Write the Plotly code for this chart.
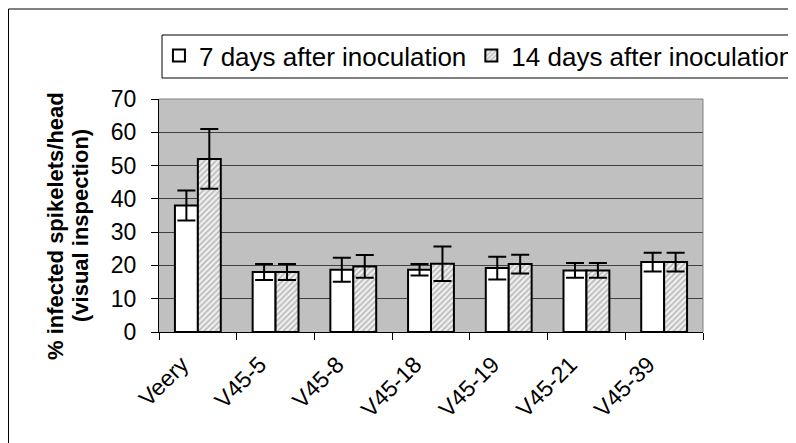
import plotly.graph_objects as go

categories = ["Veery", "V45-5", "V45-8", "V45-18", "V45-19", "V45-21", "V45-39"]
day7 = [38.0, 18.0, 18.7, 18.7, 19.2, 18.5, 21.0]
day7_err = [4.5, 2.4, 3.6, 1.7, 3.4, 2.2, 2.8]
day14 = [52.0, 18.0, 19.7, 20.5, 20.4, 18.5, 21.0]
day14_err = [9.0, 2.4, 3.4, 5.2, 2.8, 2.2, 2.8]
series_names = ["7 days after inoculation", "14 days after inoculation"]
y_title_lines = ["% infected spikelets/head", "(visual inspection)"]

# The page body has an 8px margin, so the figure is drawn 8px in from the corner.
OFF = 8
W, H = 796 - OFF, 443 - OFF
L, R, T, B = 159 - OFF, 703 - OFF, 99 - OFF, 332 - OFF


def px_x(p):
    """page pixel -> paper x"""
    return (p - OFF - L) / (R - L)


def px_y(p):
    """page pixel -> paper y"""
    return (B - (p - OFF)) / (B - T)


FONT = "Arial, 'Liberation Sans', sans-serif"

fig = go.Figure()
fig.add_trace(go.Bar(
    x=categories, y=day7, name=series_names[0],
    marker=dict(color="white", line=dict(color="black", width=2)),
    error_y=dict(type="data", array=day7_err, color="black", thickness=2, width=9),
))
fig.add_trace(go.Bar(
    x=categories, y=day14, name=series_names[1],
    marker=dict(color="#e0e0e0", line=dict(color="black", width=2),
                pattern=dict(shape="/", fgcolor="#808080", bgcolor="#f0f0f0", size=4, solidity=0.4)),
    error_y=dict(type="data", array=day14_err, color="black", thickness=2, width=9),
))

fig.update_layout(
    width=W, height=H,
    margin=dict(l=L, r=W - R, t=T, b=H - B, pad=0, autoexpand=False),
    paper_bgcolor="white",
    plot_bgcolor="#c0c0c0",
    barmode="group", bargap=0.41, bargroupgap=0,
    font=dict(family=FONT, color="black", size=23),
    showlegend=True,
    legend=dict(orientation="h", x=-0.0001, y=px_y(32), xanchor="left", yanchor="top",
                bgcolor="rgba(0,0,0,0)", borderwidth=0,
                font=dict(family=FONT, size=26, color="black"),
                traceorder="normal"),
    xaxis=dict(
        type="category", showgrid=False, showline=True, linecolor="black", linewidth=1,
        ticks="outside", ticklen=7, tickcolor="black", tickwidth=1, tickson="boundaries",
        tickangle=-45, tickfont=dict(family=FONT, size=23, color="black"),
        zeroline=False, automargin=False, ticklabelstandoff=9, ticklabelshift=-16,
    ),
    yaxis=dict(
        range=[0, 70], dtick=10, tick0=0, showgrid=True, gridcolor="#404040", gridwidth=1,
        showline=True, linecolor="black", linewidth=1, ticks="outside", ticklen=7,
        tickcolor="black", tickfont=dict(family=FONT, size=23, color="black"),
        zeroline=False, ticklabelstandoff=10, automargin=False,
    ),
    shapes=[
        dict(type="rect", xref="paper", yref="paper", x0=px_x(8.5), x1=px_x(820),
             y0=px_y(9), y1=px_y(470), line=dict(color="black", width=1), layer="below"),
        dict(type="rect", xref="paper", yref="paper", x0=px_x(162), x1=px_x(820),
             y0=px_y(35), y1=px_y(78), line=dict(color="black", width=1), layer="above"),
        dict(type="line", xref="paper", yref="paper", x0=0, x1=1, y0=1, y1=1,
             line=dict(color="#808080", width=1)),
        dict(type="line", xref="paper", yref="paper", x0=1, x1=1, y0=0, y1=1,
             line=dict(color="#808080", width=1)),
    ],
    annotations=[
        dict(text="<b>" + y_title_lines[0] + "</b>", xref="paper", yref="paper",
             x=px_x(55), y=px_y(226), xanchor="center", yanchor="middle",
             textangle=-90, showarrow=False,
             font=dict(family=FONT, size=22, color="black")),
        dict(text="<b>" + y_title_lines[1] + "</b>", xref="paper", yref="paper",
             x=px_x(80), y=px_y(226), xanchor="center", yanchor="middle",
             textangle=-90, showarrow=False,
             font=dict(family=FONT, size=22, color="black")),
    ],
)

fig.write_html("out.html")
